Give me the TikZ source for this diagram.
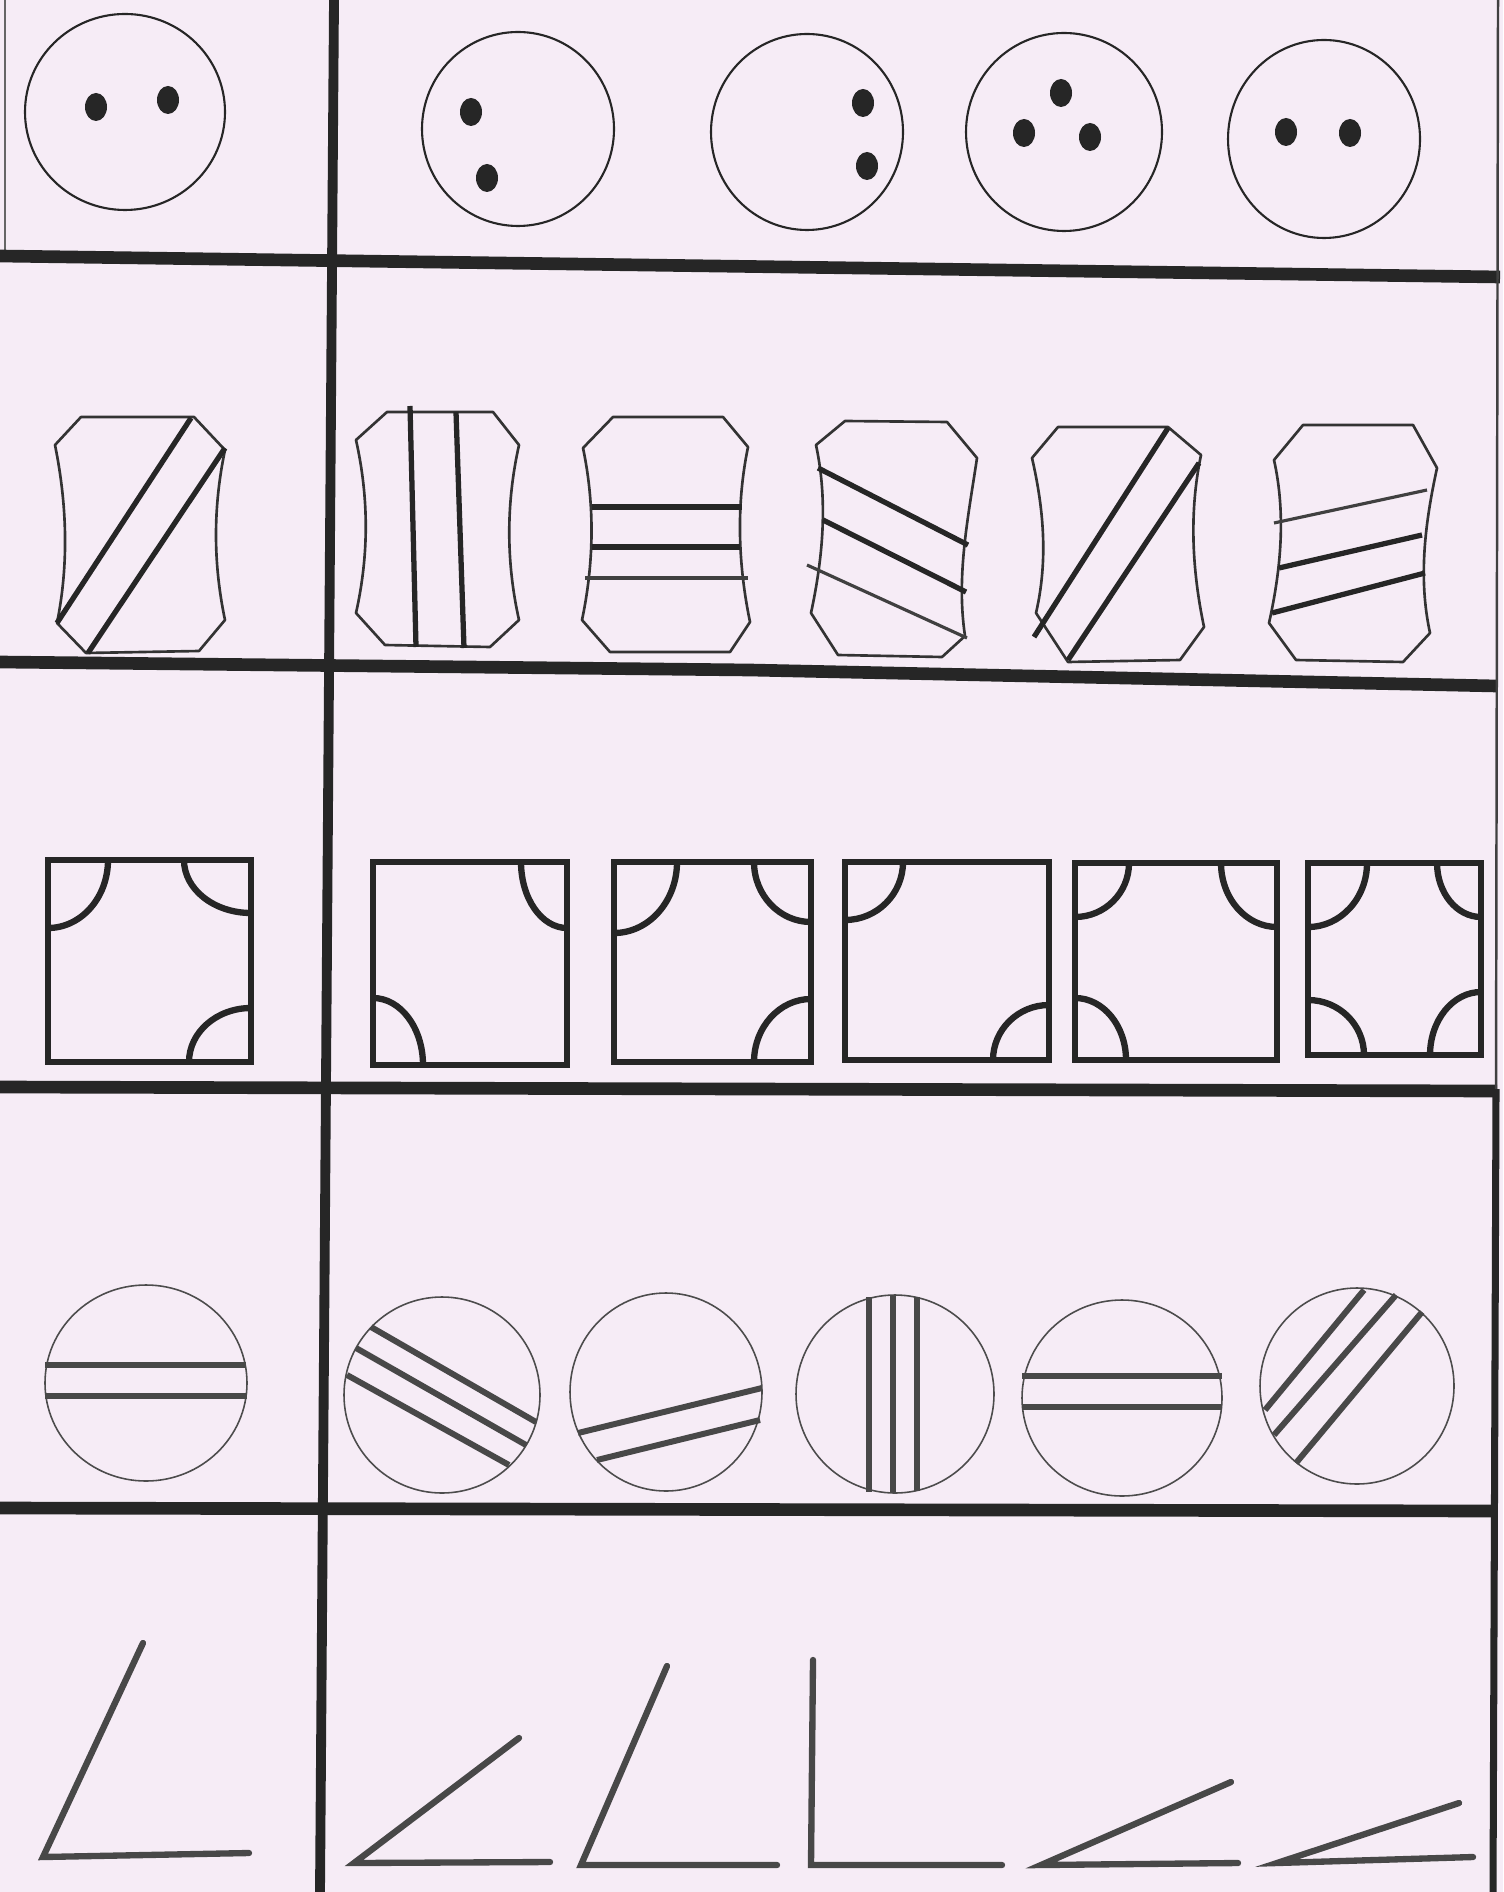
\documentclass[tikz,border=0pt]{standalone}
\definecolor{paper}{RGB}{246,236,246}
\definecolor{pencil}{RGB}{38,38,38}
\definecolor{lead}{RGB}{72,72,72}
\newcommand\qarcX[4]{\draw[sqline] ({#1+(#3)},#2) .. controls ({#1+(#3)},{#2+0.552*(#4)}) and ({#1+0.552*(#3)},{#2+(#4)}) .. (#1,{#2+(#4)});}
\begin{document}
\begin{tikzpicture}[x=0.01cm,y=-0.01cm,
  grid/.style={draw=pencil,line width=3.6pt},
  vgrid/.style={draw=pencil,line width=2.8pt},
  ring/.style={draw=black!85,line width=0.6pt},
  dotfill/.style={fill=black!85},
  barrel/.style={draw=black!80,line width=0.75pt,line join=round},
  stripe/.style={draw=pencil,line width=1.5pt},
  fine/.style={draw=black!75,line width=0.9pt},
  sqline/.style={draw=pencil,line width=1.8pt},
  thinring/.style={draw=black!70,line width=0.45pt},
  band/.style={draw=lead,line width=1.7pt},
  anglearm/.style={draw=lead,line width=1.8pt,line cap=round}]
\useasboundingbox (0,0) rectangle (1503,1892);
\fill[paper] (0,0) rectangle (1503,1892);

% ---------- grid ----------
\draw[draw=black!60,line width=0.6pt] (5,0) -- (5,256);
\draw[grid] (0,256) -- (1500,277);
\draw[grid] (0,662) -- (750,670) -- (1497,686);
\draw[grid] (0,1087) -- (1497,1091);
\draw[grid] (0,1508) -- (1497,1511);
\draw[vgrid] (334,0) -- (320,1892);
\draw[draw=black!75,line width=0.7pt] (1498,0) -- (1496,1089);
\draw[draw=pencil,line width=2pt] (1496,1089) -- (1493,1892);

% ---------- row 1: circles with dots ----------
\draw[ring] (125,112) ellipse[x radius=100,y radius=98];
\fill[dotfill] (96,107) ellipse[x radius=11,y radius=14];
\fill[dotfill] (168,100) ellipse[x radius=11,y radius=14];

\draw[ring] (518,129) ellipse[x radius=96,y radius=97];
\fill[dotfill] (471,112) ellipse[x radius=11,y radius=14];
\fill[dotfill] (487,178) ellipse[x radius=11,y radius=14];

\draw[ring] (807,132) ellipse[x radius=96,y radius=98];
\fill[dotfill] (863,103) ellipse[x radius=11,y radius=14];
\fill[dotfill] (867,166) ellipse[x radius=11,y radius=14];

\draw[ring] (1064,132) ellipse[x radius=98,y radius=99];
\fill[dotfill] (1061,93) ellipse[x radius=11,y radius=14];
\fill[dotfill] (1024,133) ellipse[x radius=11,y radius=14];
\fill[dotfill] (1090,137) ellipse[x radius=11,y radius=14];

\draw[ring] (1324,139) ellipse[x radius=96,y radius=99];
\fill[dotfill] (1286,132) ellipse[x radius=11,y radius=14];
\fill[dotfill] (1350,133) ellipse[x radius=11,y radius=14];

% ---------- row 2: barrels ----------
\draw[barrel] (81,417) -- (194,417) -- (225,450) .. controls (213,507) and (213,563) .. (225,620) -- (199,651) -- (86,653) -- (57,623) .. controls (69,564) and (67,504) .. (55,445) -- cycle;
\draw[stripe] (191,418) -- (57,623);
\draw[stripe] (225,448) -- (88,653);

\draw[barrel] (387,412) -- (493,412) -- (519,445) .. controls (506,503) and (506,562) .. (519,620) -- (490,647) -- (385,645) -- (356,613) .. controls (369,555) and (369,498) .. (356,440) -- cycle;
\draw[stripe] (410,406) -- (416,647);
\draw[stripe] (456,412) -- (464,648);

\draw[barrel] (613,417) -- (723,417) -- (748,447) .. controls (736,505) and (738,564) .. (750,622) -- (730,652) -- (610,652) -- (582,620) .. controls (594,563) and (595,505) .. (583,448) -- cycle;
\draw[stripe] (592,507) -- (742,507);
\draw[stripe] (592,547) -- (740,547);
\draw[fine] (585,578) -- (748,578);

\draw[barrel] (845,421) -- (947,422) -- (977,458) .. controls (968,518) and (956,576) .. (965,636) -- (942,657) -- (838,655) -- (811,613) .. controls (823,557) and (828,501) .. (816,445) -- cycle;
\draw[stripe] (818,468) -- (968,545);
\draw[stripe] (823,520) -- (966,592);
\draw[fine] (807,565) -- (967,638);

\draw[barrel] (1058,427) -- (1168,427) -- (1201,455) .. controls (1189,512) and (1192,570) .. (1204,627) -- (1180,660) -- (1068,662) -- (1036,613) .. controls (1048,561) and (1044,510) .. (1032,458) -- cycle;
\draw[stripe] (1168,428) -- (1034,637);
\draw[stripe] (1199,463) -- (1068,660);

\draw[barrel] (1303,425) -- (1413,425) -- (1437,468) .. controls (1425,523) and (1418,578) .. (1430,633) -- (1403,662) -- (1296,660) -- (1269,623) .. controls (1281,569) and (1286,514) .. (1274,460) -- cycle;
\draw[fine] (1274,523) -- (1427,490);
\draw[stripe] (1279,568) -- (1422,535);
\draw[stripe] (1272,613) -- (1425,573);

% ---------- row 3: squares with quarter arcs ----------
\draw[sqline] (48,860) rectangle (251,1062);
\qarcX{48}{860}{60}{68}
\qarcX{251}{860}{-67}{53}
\qarcX{251}{1062}{-62}{-54}

\draw[sqline] (373,862) rectangle (567,1065);
\qarcX{567}{862}{-46}{66}
\qarcX{373}{1065}{50}{-67}

\draw[sqline] (614,862) rectangle (811,1062);
\qarcX{614}{862}{63}{71}
\qarcX{811}{862}{-57}{60}
\qarcX{811}{1062}{-57}{-63}

\draw[sqline] (845,862) rectangle (1049,1060);
\qarcX{845}{862}{58}{58}
\qarcX{1049}{1060}{-56}{-55}

\draw[sqline] (1075,863) rectangle (1277,1060);
\qarcX{1075}{863}{54}{54}
\qarcX{1277}{863}{-56}{64}
\qarcX{1075}{1060}{51}{-62}

\draw[sqline] (1308,863) rectangle (1481,1055);
\qarcX{1308}{863}{59}{64}
\qarcX{1481}{863}{-44}{54}
\qarcX{1308}{1055}{56}{-55}
\qarcX{1481}{1055}{-51}{-63}

% ---------- row 4: circles with bands ----------
\draw[thinring] (146,1383) ellipse[x radius=101,y radius=98];
\draw[band] (45,1365) -- (246,1365);
\draw[band] (45,1396) -- (247,1396);

\draw[thinring] (442,1395) ellipse[x radius=98,y radius=98];
\draw[band] (371,1327) -- (536,1422);
\draw[band] (356,1348) -- (526,1445);
\draw[band] (347,1375) -- (509,1465);

\draw[thinring] (666,1392) ellipse[x radius=96,y radius=99];
\draw[band] (578,1433) -- (762,1388);
\draw[band] (597,1460) -- (760,1420);

\draw[thinring] (895,1394) ellipse[x radius=99,y radius=99];
\draw[band] (869,1297) -- (869,1492);
\draw[band] (893,1295) -- (893,1493);
\draw[band] (917,1297) -- (917,1491);

\draw[thinring] (1122,1398) ellipse[x radius=100,y radius=98];
\draw[band] (1022,1376) -- (1222,1376);
\draw[band] (1022,1407) -- (1222,1407);

\draw[thinring] (1357,1386) ellipse[x radius=97,y radius=98];
\draw[band] (1364,1290) -- (1265,1410);
\draw[band] (1396,1295) -- (1274,1435);
\draw[band] (1422,1312) -- (1296,1463);

% ---------- row 5: angles ----------
\draw[anglearm] (143,1643) -- (43,1857) -- (249,1853);
\draw[anglearm] (519,1738) -- (354,1863) -- (550,1862);
\draw[anglearm] (667,1666) -- (581,1865) -- (777,1865);
\draw[anglearm] (813,1660) -- (811,1865) -- (1002,1865);
\draw[anglearm] (1231,1782) -- (1041,1865) -- (1238,1863);
\draw[anglearm] (1459,1803) -- (1277,1863) -- (1473,1857);
\end{tikzpicture}
\end{document}
